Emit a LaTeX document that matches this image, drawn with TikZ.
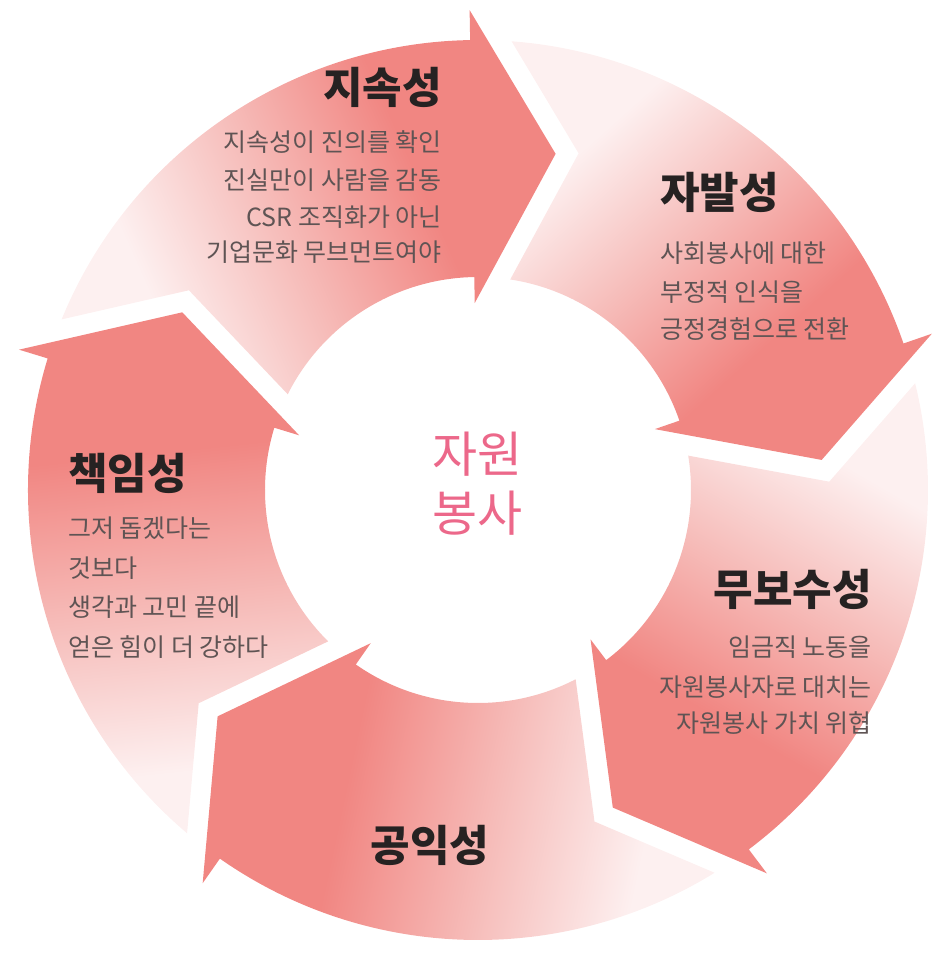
\documentclass[tikz,border=0pt]{standalone}
\usepackage{fontspec}
\newfontfamily\kr{Noto Sans CJK KR}
\definecolor{pinkc}{RGB}{241,134,130}
\definecolor{fadec}{RGB}{253,240,240}
\definecolor{midc}{RGB}{246,188,185}
\definecolor{titlec}{RGB}{38,34,34}
\definecolor{bodyc}{RGB}{95,84,84}
\definecolor{centerc}{RGB}{236,104,138}
\pgfdeclareverticalshading{arrowfade}{100bp}{color(0bp)=(fadec); color(30bp)=(fadec); color(46bp)=(midc); color(62bp)=(pinkc); color(100bp)=(pinkc)}
\tikzset{
  ttl/.style={font=\kr\bfseries\fontsize{43}{50}\selectfont, text=titlec, inner sep=0pt},
  bd/.style={font=\kr\fontsize{25}{30}\selectfont, text=bodyc, inner sep=0pt},
  ctr/.style={font=\kr\fontsize{49}{58}\selectfont, text=centerc, inner sep=0pt}
}
\begin{document}
\begin{tikzpicture}[x=1pt,y=1pt]
\useasboundingbox (-478,-472) rectangle (465,490);
\foreach \b in {91,19,-53,-125,-197}{
  \pgfmathsetmacro\sa{\b-157}
  \path[shading=arrowfade, shading angle=\sa]
    (\b:450) -- (\b:480) -- (\b-14:345) -- (\b:187) -- (\b:213)
    arc[start angle=\b, end angle=\b+62.29, radius=213]
    -- (\b+54.36:351.4) -- (\b+66.72:450)
    arc[start angle=\b+66.72, end angle=\b, radius=450] -- cycle;
}
% 지속성
\node[ttl, anchor=east] (t1) at (-36,402.5) {지속성};
\node[bd, anchor=east] (t1a) at (-36,348) {지속성이 진의를 확인};
\node[bd, anchor=east] (t1b) at (-36,310) {진실만이 사람을 감동};
\node[bd, anchor=east] (t1c) at (-36,273) {CSR 조직화가 아닌};
\node[bd, anchor=east] (t1d) at (-36,238) {기업문화 무브먼트여야};
% 자발성
\node[ttl, anchor=west] (t2) at (182,297.5) {자발성};
\node[bd, anchor=west] (t2a) at (182,237) {사회봉사에 대한};
\node[bd, anchor=west] (t2b) at (182,198) {부정적 인식을};
\node[bd, anchor=west] (t2c) at (182,161) {긍정경험으로 전환};
% 무보수성
\node[ttl, anchor=east] (t3) at (394,-99) {무보수성};
\node[bd, anchor=east] (t3a) at (394,-157) {임금직 노동을};
\node[bd, anchor=east] (t3b) at (394,-197) {자원봉사자로 대치는};
\node[bd, anchor=east] (t3c) at (394,-233) {자원봉사 가치 위협};
% 책임성
\node[ttl, anchor=west] (t4) at (-410,17) {책임성};
\node[bd, anchor=west] (t4a) at (-410,-38) {그저 돕겠다는};
\node[bd, anchor=west] (t4b) at (-410,-78) {것보다};
\node[bd, anchor=west] (t4c) at (-410,-117) {생각과 고민 끝에};
\node[bd, anchor=west] (t4d) at (-410,-157) {얻은 힘이 더 강하다};
% 공익성
\node[ttl] (t5) at (-48,-355) {공익성};
% center
\node[ctr] (c1) at (0,36) {자원};
\node[ctr] (c2) at (0,-23) {봉사};
\end{tikzpicture}
\end{document}
